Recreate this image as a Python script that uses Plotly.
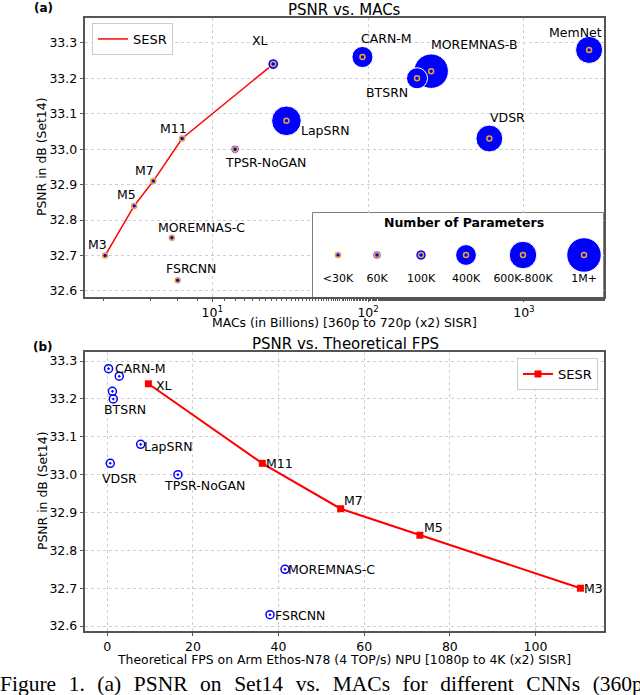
import math
import plotly.graph_objects as go

# ---------------- data ----------------
sesr_names = ['M3', 'M5', 'M7', 'M11', 'XL']
sesr_macs = [2.05, 3.15, 4.18, 6.4, 24.6]          # billions
sesr_psnr = [32.70, 32.84, 32.91, 33.03, 33.24]
sesr_params = [8, 13, 18, 27, 105]                  # thousands
sesr_fps = [110.5, 73.0, 54.5, 36.2, 9.6]

other_names = ['FSRCNN', 'MOREMNAS-C', 'TPSR-NoGAN', 'LapSRN', 'CARN-M',
               'MOREMNAS-B', 'BTSRN', 'VDSR', 'MemNet']
other_macs = [6.0, 5.5, 14.0, 29.9, 92, 254, 206, 600, 2620]
other_psnr = [32.63, 32.75, 33.00, 33.08, 33.26, 33.22, 33.20, 33.03, 33.28]
other_params = [12, 25, 60, 813, 412, 1100, 410, 665, 677]
other_fps = [38.0, 41.5, 16.5, 7.8, 2.8, 1.2, 1.4, 0.7, 0.3]

key_labels = ['<30K', '60K', '100K', '400K', '600K-800K', '1M+']
key_params = [20, 60, 100, 400, 700, 1100]

psnr_ticks = [32.6, 32.7, 32.8, 32.9, 33.0, 33.1, 33.2, 33.3]
mac_ticks = [10, 100, 1000]
mac_ticktext = ['10<sup>1</sup>', '10<sup>2</sup>', '10<sup>3</sup>']
fps_ticks = [0, 20, 40, 60, 80, 100]

caption = 'Figure 1. (a) PSNR on Set14 vs. MACs for different CNNs (360p to 720p)'

# ---------------- layout helpers ----------------
W, H = 640, 695
def px(x): return x / W
def py(y): return 1 - y / H

FONT = 'DejaVu Sans'
BLUE = '#0000ff'
RED = '#ff0000'
ORANGE = '#f0a030'
SPINE = '#555555'
GRID = '#cfcfcf'

# key box (pixels) and centres of the key entries inside it
KEY_BOX = (313, 603, 213, 297)
key_x = [338, 377, 421, 466, 523, 584]

# label offsets in pixels (dx, dy up)
top_off = {'M3': (-8, 11), 'M5': (-8, 11), 'M7': (-9, 11), 'M11': (-9, 10), 'XL': (-13, 24),
           'FSRCNN': (13, 12), 'MOREMNAS-C': (30, 10), 'TPSR-NoGAN': (30, -13),
           'LapSRN': (39, -10), 'CARN-M': (24, 19), 'MOREMNAS-B': (43, 27),
           'BTSRN': (-30, -14), 'VDSR': (18, 21), 'MemNet': (-14, 17)}
bot_off = {'M3': (13, 0), 'M5': (14, 8), 'M7': (13, 8), 'M11': (17, 0), 'XL': (16, -2),
           'FSRCNN': (30, -1), 'MOREMNAS-C': (47, 0), 'TPSR-NoGAN': (27, -11),
           'LapSRN': (28, -2), 'CARN-M': (21, 8), 'BTSRN': (12, -11), 'VDSR': (9, -15)}

bubble = dict(sizemode='area', sizeref=1.85, sizemin=2.5, color=BLUE, opacity=1,
              line=dict(color='white', width=1))
centre = dict(symbol='circle-open', size=5, color=ORANGE, opacity=1,
              line=dict(width=1.5, color=ORANGE))

fig = go.Figure()

# ---- (a) PSNR vs MACs ----
fig.add_trace(go.Scatter(x=sesr_macs, y=sesr_psnr, mode='lines', name='SESR',
                         line=dict(color=RED, width=1.5), xaxis='x', yaxis='y',
                         legend='legend'))
fig.add_trace(go.Scatter(x=other_macs + sesr_macs, y=other_psnr + sesr_psnr, mode='markers',
                         marker=dict(size=other_params + sesr_params, **bubble),
                         showlegend=False, xaxis='x', yaxis='y', hoverinfo='skip'))
fig.add_trace(go.Scatter(x=other_macs + sesr_macs, y=other_psnr + sesr_psnr, mode='markers',
                         marker=centre, showlegend=False, xaxis='x', yaxis='y'))

# size key in its own little axes (pixel coordinates of the box)
fig.add_trace(go.Scatter(x=key_x, y=[255] * len(key_x), mode='markers',
                         marker=dict(size=key_params, **bubble),
                         showlegend=False, xaxis='x3', yaxis='y3', hoverinfo='skip'))
fig.add_trace(go.Scatter(x=key_x, y=[255] * len(key_x), mode='markers', marker=centre,
                         showlegend=False, xaxis='x3', yaxis='y3'))
fig.add_trace(go.Scatter(x=key_x, y=[279] * len(key_x), mode='text', text=key_labels,
                         textfont=dict(family=FONT, size=11, color='black'),
                         showlegend=False, xaxis='x3', yaxis='y3'))

# ---- (b) PSNR vs FPS ----
fig.add_trace(go.Scatter(x=other_fps, y=other_psnr, mode='markers',
                         marker=dict(symbol='circle-open-dot', size=8, color=BLUE,
                                     line=dict(width=1.5, color=BLUE)),
                         showlegend=False, xaxis='x2', yaxis='y2'))
fig.add_trace(go.Scatter(x=sesr_fps, y=sesr_psnr, mode='lines+markers', name='SESR',
                         line=dict(color=RED, width=2),
                         marker=dict(symbol='square', size=7, color=RED),
                         xaxis='x2', yaxis='y2', legend='legend2'))

ann = []
for n, m, p in zip(sesr_names + other_names, sesr_macs + other_macs, sesr_psnr + other_psnr):
    dx, dy = top_off[n]
    ann.append(dict(x=math.log10(m), y=p, xref='x', yref='y', text=n, showarrow=False,
                    xshift=dx, yshift=dy, font=dict(family=FONT, size=12.5, color='black')))
for n, f, p in zip(sesr_names + other_names, sesr_fps + other_fps, sesr_psnr + other_psnr):
    if n not in bot_off:
        continue
    dx, dy = bot_off[n]
    ann.append(dict(x=f, y=p, xref='x2', yref='y2', text=n, showarrow=False,
                    xshift=dx, yshift=dy, font=dict(family=FONT, size=12.5, color='black')))

def note(x, y, text, size, **kw):
    d = dict(x=px(x), y=py(y), xref='paper', yref='paper', text=text, showarrow=False,
             xanchor='center', yanchor='middle',
             font=dict(family=kw.pop('family', FONT), size=size, color='black'))
    d.update(kw)
    return d

ann += [
    note(344, 10, 'PSNR vs. MACs', 15),
    note(43, 8, '<b>(a)</b>', 12),
    note(345, 344, 'PSNR vs. Theoretical FPS', 15),
    note(43, 347, '<b>(b)</b>', 12),
    note(464, 223, '<b>Number of Parameters</b>', 12.5),
    note(344, 323, 'MACs (in Billions) [360p to 720p (x2) SISR]', 12.4),
    note(344, 659, 'Theoretical FPS on Arm Ethos-N78 (4 TOP/s) NPU [1080p to 4K (x2) SISR]', 12.4),
    note(42, 157, 'PSNR in dB (Set14)', 12.4, textangle=-90),
    note(42, 491, 'PSNR in dB (Set14)', 12.4, textangle=-90),
    # justified caption line: widen the word gaps a little
    note(-2, 684, caption.replace(' ', '\u2002\u200a'), 21.5,
         family='Liberation Serif', xanchor='left'),
]

ax = dict(showline=True, linecolor=SPINE, linewidth=1.5, mirror=True, ticks='outside',
          ticklen=3.5, tickcolor=SPINE, showgrid=True, gridcolor=GRID, griddash='dot',
          gridwidth=1, zeroline=False, automargin=False,
          tickfont=dict(family=FONT, size=12.5, color='black'))

fig.update_layout(
    width=W, height=H, autosize=False, margin=dict(l=0, r=0, t=0, b=0),
    plot_bgcolor='white', paper_bgcolor='white',
    xaxis=dict(ax, type='log', domain=[px(85), px(604)], range=[0.183, 3.514],
               tickvals=mac_ticks, ticktext=mac_ticktext, anchor='y',
               minor=dict(ticks='outside', ticklen=2, tickcolor=SPINE, showgrid=False)),
    yaxis=dict(ax, domain=[py(297), py(18)], range=[32.583, 33.37], tickvals=psnr_ticks,
               tickformat='.1f', anchor='x'),
    xaxis2=dict(ax, domain=[px(85), px(604)], range=[-5.2, 116], tickvals=fps_ticks, anchor='y2'),
    yaxis2=dict(ax, domain=[py(631), py(352)], range=[32.587, 33.324], tickvals=psnr_ticks,
                tickformat='.1f', anchor='x2'),
    xaxis3=dict(domain=[px(KEY_BOX[0]), px(KEY_BOX[1])], range=[KEY_BOX[0], KEY_BOX[1]],
                visible=False, anchor='y3'),
    yaxis3=dict(domain=[py(KEY_BOX[3]), py(KEY_BOX[2])], range=[KEY_BOX[3], KEY_BOX[2]],
                visible=False, anchor='x3'),
    legend=dict(x=px(92), y=py(23), xanchor='left', yanchor='top', bgcolor='white',
                bordercolor='#cccccc', borderwidth=1, itemwidth=30,
                font=dict(family=FONT, size=13, color='black')),
    legend2=dict(x=px(598), y=py(358), xanchor='right', yanchor='top', bgcolor='white',
                 bordercolor='#cccccc', borderwidth=1, itemwidth=30,
                 font=dict(family=FONT, size=13, color='black')),
    shapes=[dict(type='rect', xref='paper', yref='paper', x0=px(KEY_BOX[0]), x1=px(KEY_BOX[1]),
                 y0=py(KEY_BOX[3]), y1=py(KEY_BOX[2]), line=dict(color=SPINE, width=1.5),
                 fillcolor='white', layer='below')],
    annotations=ann,
)

fig.write_html('out.html', config={'displayModeBar': False},
               post_script="document.body.style.margin='0px';")
